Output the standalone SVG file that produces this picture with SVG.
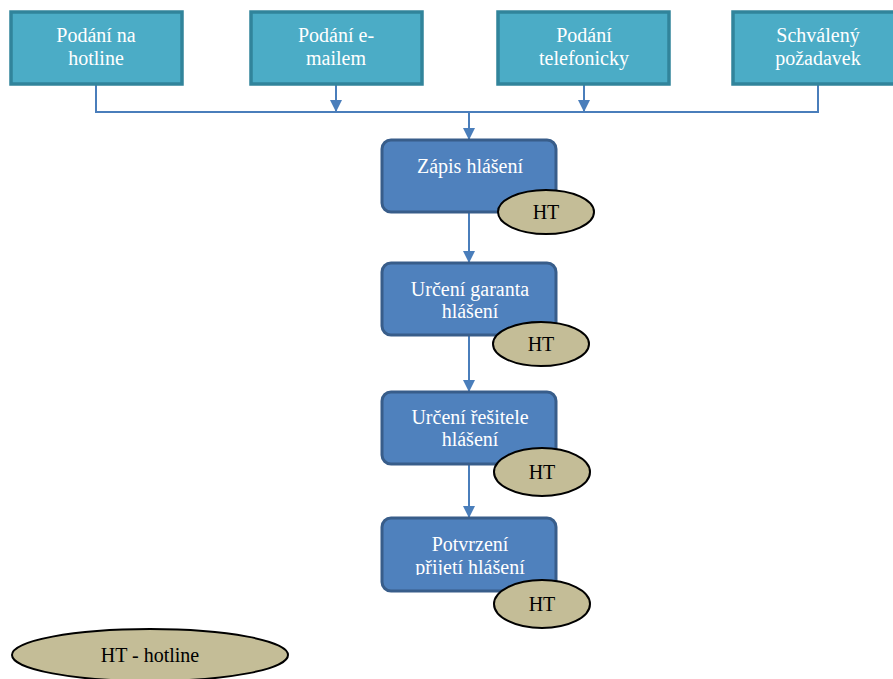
<svg xmlns="http://www.w3.org/2000/svg" width="893" height="679" viewBox="0 0 893 679">
<defs>
<style>
.src rect{fill:#4BACC6;stroke:#31849B;stroke-width:3.5}
.step rect{fill:#4F81BD;stroke:#385D8A;stroke-width:3}
.ht ellipse{fill:#C4BD97;stroke:#000;stroke-width:2}
.wt{font-family:"Liberation Serif",serif;font-size:20px;fill:#fff;text-anchor:middle}
.bt{font-family:"Liberation Serif",serif;font-size:20px;fill:#000;text-anchor:middle}
.con{fill:none;stroke:#4A7EBB;stroke-width:2}
</style>
<marker id="ah" markerWidth="12" markerHeight="12" refX="12" refY="6" orient="auto" markerUnits="userSpaceOnUse">
<path d="M0,0 L12,6 L0,12 Z" fill="#4A7EBB"/>
</marker>
<clipPath id="clip4"><rect x="380" y="516" width="180" height="59"/></clipPath>
</defs>
<rect width="893" height="679" fill="#fff"/>
<g id="connectors">
<path class="con" d="M96,85 V112 H818 V85"/>
<path class="con" d="M336,85 V112" marker-end="url(#ah)"/>
<path class="con" d="M584,85 V112" marker-end="url(#ah)"/>
<path class="con" d="M469,112 V140" marker-end="url(#ah)"/>
<path class="con" d="M469,212 V263" marker-end="url(#ah)"/>
<path class="con" d="M469,335 V392" marker-end="url(#ah)"/>
<path class="con" d="M469,464 V518" marker-end="url(#ah)"/>
</g>
<g id="n-hotline" class="src"><rect x="11" y="12" width="171" height="72"/><text class="wt" x="96" y="42">Podání na</text><text class="wt" x="96" y="65">hotline</text></g>
<g id="n-email" class="src"><rect x="251" y="12" width="171" height="72"/><text class="wt" x="336" y="42">Podání e-</text><text class="wt" x="336" y="65">mailem</text></g>
<g id="n-tel" class="src"><rect x="498" y="12" width="171" height="72"/><text class="wt" x="584" y="42">Podání</text><text class="wt" x="584" y="65">telefonicky</text></g>
<g id="n-schval" class="src"><rect x="733" y="12" width="171" height="72"/><text class="wt" x="818" y="42">Schválený</text><text class="wt" x="818" y="65">požadavek</text></g>
<g id="n-zapis" class="step"><rect x="382" y="140" width="174" height="72" rx="9"/><text class="wt" x="470" y="173">Zápis hlášení</text></g>
<g id="e-ht1" class="ht"><ellipse cx="546" cy="212" rx="48" ry="22"/><text class="bt" x="546" y="219">HT</text></g>
<g id="n-garant" class="step"><rect x="382" y="263" width="174" height="72" rx="9"/><text class="wt" x="470" y="296">Určení garanta</text><text class="wt" x="470" y="318">hlášení</text></g>
<g id="e-ht2" class="ht"><ellipse cx="541" cy="344" rx="48" ry="22"/><text class="bt" x="541" y="351">HT</text></g>
<g id="n-resitel" class="step"><rect x="382" y="392" width="174" height="72" rx="9"/><text class="wt" x="470" y="424">Určení řešitele</text><text class="wt" x="470" y="446">hlášení</text></g>
<g id="e-ht3" class="ht"><ellipse cx="542" cy="472" rx="48" ry="24"/><text class="bt" x="542" y="479">HT</text></g>
<g id="n-potvrz" class="step"><rect x="382" y="518" width="174" height="73" rx="9"/><g clip-path="url(#clip4)"><text class="wt" x="470" y="551">Potvrzení</text><text class="wt" x="470" y="574">přijetí hlášení</text></g></g>
<g id="e-ht4" class="ht"><ellipse cx="542" cy="604" rx="48" ry="24"/><text class="bt" x="542" y="611">HT</text></g>
<g id="legend" class="ht"><ellipse cx="150" cy="655" rx="138" ry="26"/><text class="bt" x="150" y="662">HT - hotline</text></g>
</svg>
